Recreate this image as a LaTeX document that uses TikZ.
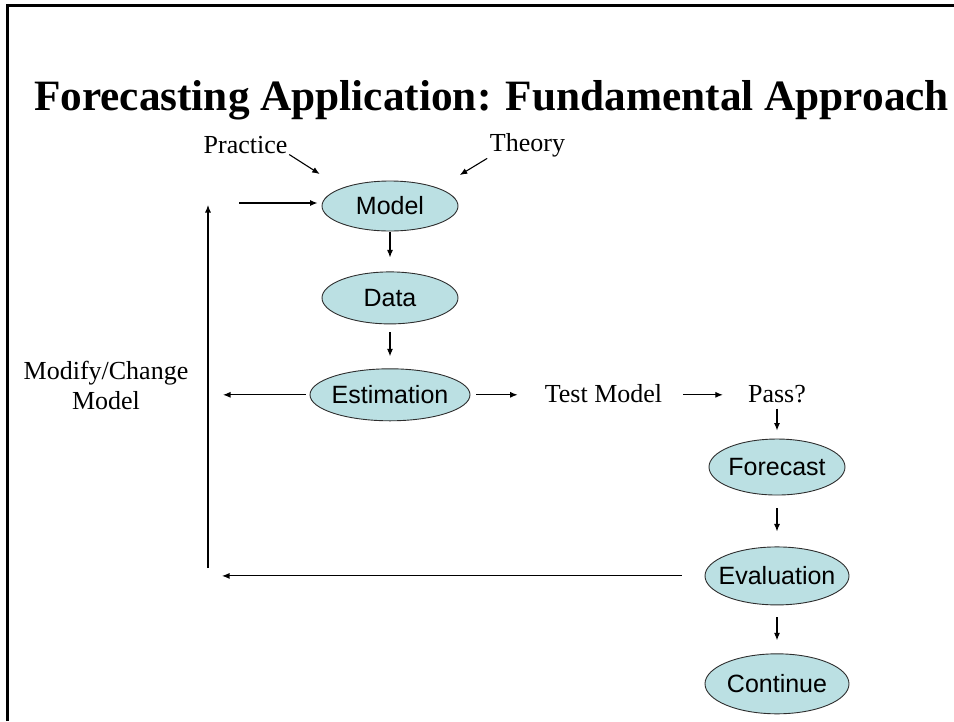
\documentclass[tikz,border=0pt]{standalone}
\usepackage{fontspec}
\setmainfont{Liberation Serif}
\setsansfont{Liberation Sans}
\usetikzlibrary{positioning,shapes.geometric,arrows.meta}
\definecolor{fcteal}{HTML}{BBE0E3}
\definecolor{fcedge}{HTML}{2E2E2E}
\tikzset{
  stage/.style={ellipse,draw=fcedge,fill=fcteal,line width=0.9pt,inner sep=0pt,inner xsep=-18pt,minimum width=136pt,minimum height=52pt,font=\sffamily\fontsize{25}{28}\selectfont},
  note/.style={inner sep=0pt,font=\fontsize{26}{30}\selectfont,align=center},
  lnk/.style={-{Latex[length=7.5pt,width=6pt]},line width=1.1pt},
}
\begin{document}
\begin{tikzpicture}[x=1pt,y=-1pt]
  \useasboundingbox (0,0) rectangle (954,721);
  % slide frame
  \draw[line width=3pt] (7.5,721) -- (7.5,5.5) -- (954,5.5);
  \node[anchor=base,inner sep=0pt,font=\bfseries\fontsize{43.3}{47}\selectfont] (title) at (491.5,110) {Forecasting Application: Fundamental Approach};

  % main chain
  \node[stage,minimum height=50pt] (model) at (390,206) {Model};
  \node[stage,below=40pt of model] (data) {Data};
  \node[stage,minimum width=160pt,below=44pt of data] (est) {Estimation};
  \node[note,anchor=base] (practice) at (245.5,153) {Practice};
  \node[note,anchor=base] (theory) at (527.5,151) {Theory};
  \node[note,anchor=base] (testm) at (603.5,402) {Test Model};
  \node[note,anchor=base] (pass) at (777,402) {Pass?};
  \node[note] (modify) at (106,385) {Modify/Change\\Model};
  \node[stage,minimum height=56pt,below=36pt of pass] (fore) {Forecast};
  \node[stage,minimum width=144pt,minimum height=58pt,below=51pt of fore] (eval) {Evaluation};
  \node[stage,minimum width=144pt,minimum height=60pt,below=48pt of eval] (cont) {Continue};

  % feedback loop
  \coordinate (loopbot) at (208,568);
  \coordinate (looptop) at (208,205);
  \coordinate (loopin) at (239,203);

  \draw[lnk,shorten <=2pt,shorten >=26pt] (practice.south east) -- (model.north west);
  \draw[lnk,shorten <=3pt,shorten >=25pt] (theory.south west) -- (model.north east);
  \draw[lnk,shorten >=4pt] (loopin) -- (loopin -| model.west);
  \draw[lnk,shorten <=1pt,shorten >=14pt] (model) -- (data);
  \draw[lnk,shorten <=8pt,shorten >=12pt] (data) -- (est);
  \draw[lnk,shorten <=4pt,shorten >=15pt] (est.west) -- (est.west -| loopbot);
  \draw[lnk,shorten <=6pt,shorten >=27pt] (est.east) -- (est.east -| testm.west);
  \draw[lnk,shorten <=21pt,shorten >=25pt] (est.east -| testm.east) -- (est.east -| pass.west);
  \draw[lnk,shorten <=6pt,shorten >=8pt] (pass) -- (fore);
  \draw[lnk,shorten <=13pt,shorten >=15pt] (fore) -- (eval);
  \draw[lnk,shorten <=12pt,shorten >=13pt] (eval) -- (cont);
  \draw[lnk,shorten <=23pt,shorten >=14pt] (eval.west) -- (eval.west -| loopbot);
  \draw[lnk] (loopbot) -- (looptop);
\end{tikzpicture}
\end{document}
